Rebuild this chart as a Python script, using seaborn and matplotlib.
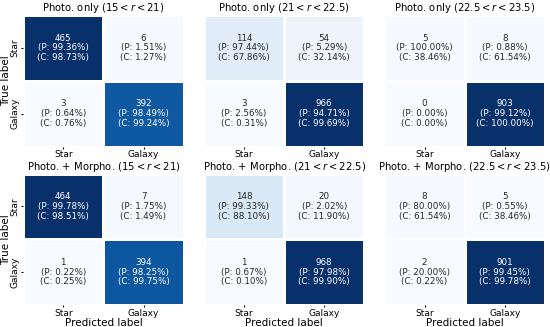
import numpy as np
import matplotlib
matplotlib.use("Agg")
import matplotlib.pyplot as plt
import seaborn as sns

labels = ["Star", "Galaxy"]
titles = [
    r"Photo. only ($15 < r < 21$)",
    r"Photo. only ($21 < r < 22.5$)",
    r"Photo. only ($22.5 < r < 23.5$)",
    r"Photo. + Morpho. ($15 < r < 21$)",
    r"Photo. + Morpho. ($21 < r < 22.5$)",
    r"Photo. + Morpho. ($22.5 < r < 23.5$)",
]
# rows = true label, cols = predicted label
photo_bright = [[465, 6], [3, 392]]
photo_mid = [[114, 54], [3, 966]]
photo_faint = [[5, 8], [0, 903]]
morpho_bright = [[464, 7], [1, 394]]
morpho_mid = [[148, 20], [1, 968]]
morpho_faint = [[8, 5], [2, 901]]
matrices = [photo_bright, photo_mid, photo_faint, morpho_bright, morpho_mid, morpho_faint]

plt.rcParams["mathtext.fontset"] = "dejavusans"
fig, axes = plt.subplots(2, 3, figsize=(5.5, 3.27), dpi=100)
fig.subplots_adjust(left=0.042, right=0.991, top=0.954, bottom=0.067, wspace=0.125, hspace=0.205)

for i, (ax, cm, title) in enumerate(zip(axes.flat, matrices, titles)):
    cm = np.array(cm)
    prec = cm / cm.sum(axis=0, keepdims=True) * 100
    comp = cm / cm.sum(axis=1, keepdims=True) * 100
    annot = [[f"{cm[r, c]}\n(P: {prec[r, c]:.2f}%)\n(C: {comp[r, c]:.2f}%)" for c in range(2)]
             for r in range(2)]
    sns.heatmap(cm, annot=annot, fmt="", cmap="Blues", cbar=False, ax=ax,
                linewidths=1, linecolor="white",
                xticklabels=labels, yticklabels=labels if i % 3 == 0 else False,
                annot_kws={"fontsize": 6.3, "linespacing": 1.1})
    ax.set_title(title, fontsize=7.2, pad=2)
    ax.tick_params(labelsize=6.5, length=1.5, pad=1)
    if i % 3 == 0:
        ax.set_ylabel("True label", fontsize=7.5, labelpad=0)
        ax.set_yticklabels(labels, rotation=90, va="center")
    else:
        ax.tick_params(axis="y", left=False)
    if i >= 3:
        ax.set_xlabel("Predicted label", fontsize=7.5, labelpad=0)

fig.savefig("out.png", dpi=100)
